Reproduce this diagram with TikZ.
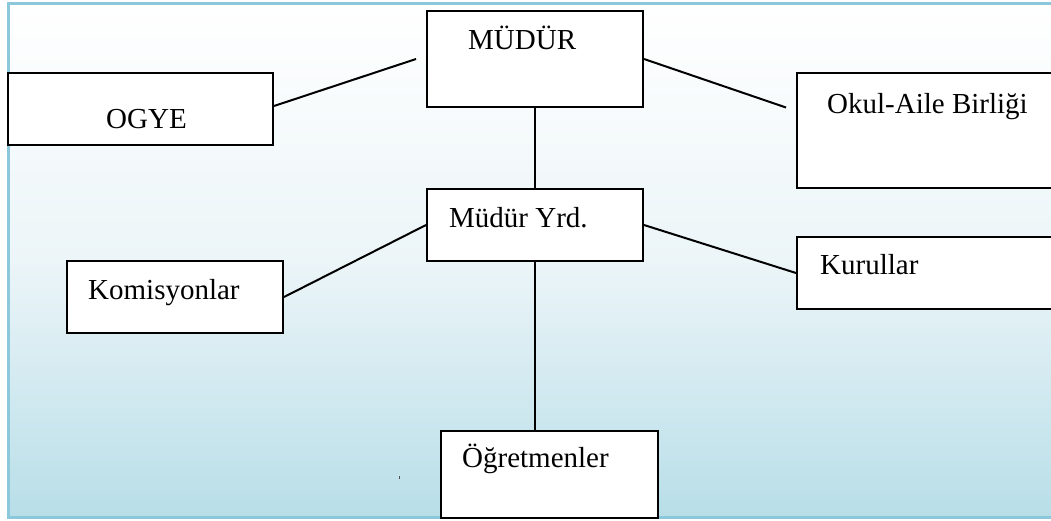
\documentclass[tikz,border=0pt]{standalone}
\usepackage{fontspec}
\setmainfont{Liberation Serif}
\usetikzlibrary{calc}
\definecolor{bgbottom}{RGB}{184,222,232}
\definecolor{bgborder}{RGB}{140,200,220}
\tikzset{
  box/.style={draw=black, line width=2pt, fill=white, inner sep=0pt},
  lbl/.style={anchor=base west, inner sep=0pt, font=\fontsize{29}{33}\selectfont},
  conn/.style={draw=black, line width=2pt}
}
\begin{document}
\begin{tikzpicture}[x=1pt,y=-1pt]
\useasboundingbox (0,0) rectangle (1051,520);
\clip (0,0) rectangle (1051,520);
\fill[white] (0,0) rectangle (1051,520);
% background panel
\shade[top color=white, bottom color=bgbottom, middle color={rgb,255:red,236;green,245;blue,248}] (8,3) rectangle (1070,517);
\draw[bgborder, line width=3pt] (1070,3) -- (8,3) -- (8,517) -- (1070,517);
% boxes
\node[box, minimum width=265pt, minimum height=72pt] (ogye) at (140.5,109) {};
\node[box, minimum width=216pt, minimum height=96pt] (mudur) at (535,59) {};
\node[box, minimum width=270pt, minimum height=115pt] (okul) at (932,130.5) {};
\node[box, minimum width=216pt, minimum height=72pt] (yrd) at (535,225) {};
\node[box, minimum width=216pt, minimum height=72pt] (komis) at (175,297) {};
\node[box, minimum width=270pt, minimum height=72pt] (kurul) at (932,273) {};
\node[box, minimum width=217pt, minimum height=87pt] (ogret) at (549.5,474.5) {};
% labels
\node[lbl] (tmudur) at (468,49) {MÜDÜR};
\node[lbl] (togye) at (106,128) {OGYE};
\node[lbl] (tokul) at (827,113) {Okul-Aile Birliği};
\node[lbl] (tyrd) at (449,227) {Müdür Yrd.};
\node[lbl] (tkomis) at (88,299) {Komisyonlar};
\node[lbl] (tkurul) at (820,274) {Kurullar};
\node[lbl] (togret) at (462,467) {Öğretmenler};
% connectors
\draw[conn] ($(ogye.east)+(0,-3)$) -- ($(mudur.west)+(-10,0)$);
\draw[conn] (mudur.east) -- ($(okul.west)+(-10,-23)$);
\draw[conn] (mudur.south) -- (yrd.north);
\draw[conn] (yrd.west) -- (komis.east);
\draw[conn] (yrd.east) -- (kurul.west);
\draw[conn] (yrd.south) -- (yrd.south |- ogret.north);
% stray dot
\fill[black!70] (398.5,475.5) rectangle (400,478.5);
\end{tikzpicture}
\end{document}
